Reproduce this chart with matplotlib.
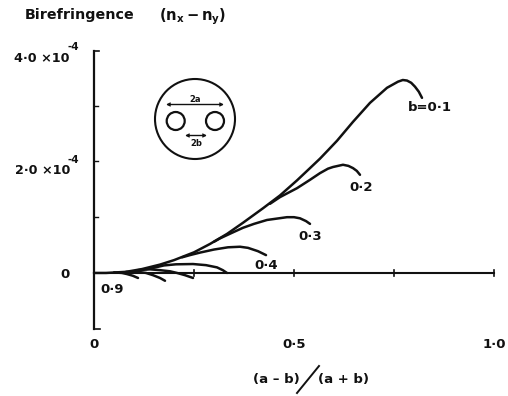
import matplotlib
matplotlib.use("Agg")
import matplotlib.pyplot as plt
from matplotlib.patches import Circle

plt.rcParams['font.family'] = ['DejaVu Sans']
plt.rcParams['mathtext.fontset'] = 'dejavusans'
W, H = 508, 396

# Curves: (a-b)/(a+b) and birefringence in units of 1e-4
b01_x = [0.0, 0.03, 0.08, 0.12, 0.165, 0.2, 0.25, 0.29, 0.3325, 0.3725, 0.4225, 0.465, 0.5075, 0.54, 0.565, 0.585, 0.6075, 0.6475, 0.69, 0.7325, 0.76, 0.772, 0.7825, 0.793, 0.8025, 0.812, 0.82]
b01_y = [0.0, 0.0, 0.02, 0.07, 0.15, 0.23, 0.37, 0.52, 0.70, 0.90, 1.16, 1.39, 1.66, 1.88, 2.05, 2.20, 2.37, 2.71, 3.05, 3.32, 3.43, 3.46, 3.45, 3.41, 3.34, 3.25, 3.14]
b02_x = [0.44, 0.465, 0.5075, 0.54, 0.565, 0.585, 0.5975, 0.6225, 0.636, 0.6475, 0.657, 0.665]
b02_y = [1.24, 1.36, 1.52, 1.67, 1.79, 1.87, 1.90, 1.94, 1.92, 1.88, 1.83, 1.76]
b03_x = [0.30, 0.315, 0.345, 0.3725, 0.40, 0.4325, 0.4825, 0.50, 0.515, 0.53, 0.54]
b03_y = [0.56, 0.62, 0.72, 0.81, 0.88, 0.95, 1.0, 1.0, 0.98, 0.93, 0.88]
b04_x = [0.22, 0.24, 0.265, 0.30, 0.335, 0.365, 0.385, 0.41, 0.43]
b04_y = [0.28, 0.32, 0.365, 0.42, 0.46, 0.47, 0.45, 0.39, 0.32]
b05_x = [0.13, 0.1475, 0.175, 0.205, 0.2475, 0.28, 0.3075, 0.322, 0.3325]
b05_y = [0.07, 0.09, 0.135, 0.155, 0.16, 0.14, 0.1, 0.05, 0.0]
b06_x = [0.11, 0.14, 0.165, 0.19, 0.2075, 0.2275, 0.2475]
b06_y = [0.05, 0.065, 0.05, 0.03, 0.0, -0.04, -0.09]
b07_x = [0.08, 0.11, 0.13, 0.1475, 0.165, 0.1775]
b07_y = [0.02, 0.02, 0.0, -0.04, -0.09, -0.14]
b08_x = [0.05, 0.07, 0.0825, 0.097, 0.11]
b08_y = [0.01, 0.0, -0.02, -0.05, -0.09]
curves = [(b01_x, b01_y), (b02_x, b02_y), (b03_x, b03_y), (b04_x, b04_y),
          (b05_x, b05_y), (b06_x, b06_y), (b07_x, b07_y), (b08_x, b08_y)]

x_ticks = [0.25, 0.5, 0.75, 1.0]
y_ticks = [1, 2, 3]
x_labels = [(0, '0'), (0.5, '0·5'), (1.0, '1·0')]
curve_labels = [(0.785, 2.96, 'b=0·1'), (0.6375, 1.54, '0·2'), (0.51, 0.66, '0·3'),
                (0.40, 0.125, '0·4'), (0.015, -0.29, '0·9')]

fig = plt.figure(figsize=(W / 100, H / 100), dpi=100)
x0, x1, ytop, ybot = 94, 494, 51, 329
ax = fig.add_axes([x0 / W, 1 - ybot / H, (x1 - x0) / W, (ybot - ytop) / H])
ax.set_xlim(0, 1)
ax.set_ylim(-1.005, 3.98)
ax.axis('off')

ink = '#111111'
ax.plot([0, 0], [-1.005, 3.98], color=ink, lw=1.6, clip_on=False)
ax.plot([0, 0.012], [3.98, 3.98], color=ink, lw=1.2, clip_on=False)
ax.plot([0, 0.015], [-1.005, -1.005], color=ink, lw=1.2, clip_on=False)
ax.plot([0, 1], [0, 0], color=ink, lw=1.5, clip_on=False)
for t in x_ticks:
    ax.plot([t, t], [-0.055, 0.055], color=ink, lw=1.2, clip_on=False)
for t in y_ticks:
    ax.plot([0, 0.01], [t, t], color=ink, lw=1.0, clip_on=False)

for cx, cy in curves:
    ax.plot(cx, cy, color=ink, lw=1.8, solid_capstyle='round', solid_joinstyle='round', clip_on=False)

tk = dict(color=ink, fontsize=9.5, fontweight='bold')
for xv, s in x_labels:
    ax.text(xv - 0.0, -1.29, s, ha='center', va='center', **tk)
for xv, yv, s in curve_labels:
    ax.text(xv, yv, s, ha='left', va='center', **tk)

# Inset and free-standing labels, in pixel coordinates
ov = fig.add_axes([0, 0, 1, 1])
ov.set_xlim(0, W)
ov.set_ylim(H, 0)
ov.axis('off')
ov.patch.set_alpha(0)

tight = dict(color=ink, fontsize=9.2, fontweight='bold')
ov.text(65, 275, '0', ha='center', va='center', **tk)
ov.text(70, 170.5, '2·0 ×10', ha='right', va='center', **tight)
ov.text(68, 160, '-4', ha='left', va='center', color=ink, fontsize=7.5, fontweight='bold')
ov.text(70, 58, '4·0 ×10', ha='right', va='center', **tight)
ov.text(68, 47, '-4', ha='left', va='center', color=ink, fontsize=7.5, fontweight='bold')

ov.text(25, 15, 'Birefringence', ha='left', va='center', color=ink, fontsize=10.3, fontweight='bold')
ov.text(159, 17, r'$\mathbf{(n_x - n_y)}$', ha='left', va='center', color=ink, fontsize=10.5)
ov.text(276, 380, '(a – b)', ha='center', va='center', color=ink, fontsize=9.5, fontweight='bold')
ov.plot([297, 319], [393, 366], color=ink, lw=1.4)
ov.text(343, 380, '(a + b)', ha='center', va='center', color=ink, fontsize=9.5, fontweight='bold')

ov.add_patch(Circle((195, 119), 40, fill=False, ec=ink, lw=1.5))
ov.add_patch(Circle((175.7, 121), 9, fill=False, ec=ink, lw=1.6))
ov.add_patch(Circle((215, 121), 9, fill=False, ec=ink, lw=1.6))
arrow = dict(arrowstyle='<->', color=ink, lw=1, mutation_scale=5, shrinkA=0, shrinkB=0)
ov.annotate('', (166, 104.5), (224, 104.5), arrowprops=arrow)
ov.annotate('', (185, 135.5), (207, 135.5), arrowprops=arrow)
ov.text(195, 99, '2a', ha='center', va='center', fontsize=6, fontweight='bold', color=ink)
ov.text(196, 144, '2b', ha='center', va='center', fontsize=6, fontweight='bold', color=ink)

fig.savefig('out.png', dpi=100)
